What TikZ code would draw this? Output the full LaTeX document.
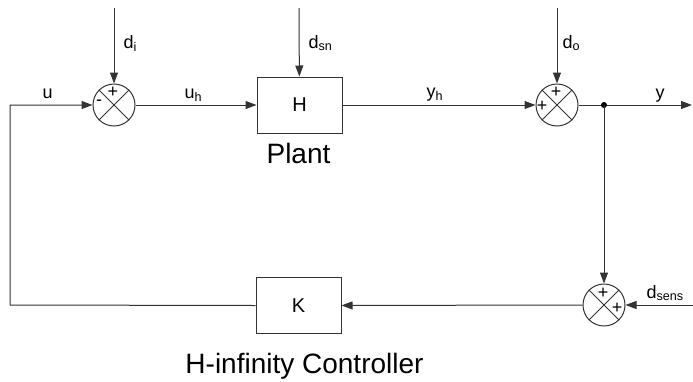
\documentclass[tikz,border=0pt]{standalone}
\usepackage{fontspec}
\setmainfont{Liberation Sans}
\usetikzlibrary{arrows.meta}
\begin{document}
\begin{tikzpicture}[x=1pt,y=-1pt,line width=1pt,draw=black!80,
  sumnode/.style={circle,draw,minimum size=42pt,inner sep=0pt},
  blk/.style={draw,minimum width=85pt,minimum height=56pt,inner sep=0pt,font=\fontsize{20}{24}\selectfont},
  lbl/.style={font=\fontsize{18}{22}\selectfont,inner sep=0pt,anchor=base west},
  sig/.style={font=\fontsize{18}{20}\selectfont,inner sep=0pt},
  big/.style={font=\fontsize{28}{32}\selectfont,inner sep=0pt,anchor=base},
  arr/.style={-{Triangle[length=11pt,width=8pt]}}]
\useasboundingbox (0,0) rectangle (693,381);
\node[sumnode] (s1) at (114,105) {};
\node[blk] (H) at (299.5,105) {H};
\node[sumnode] (s2) at (557,105) {};
\coordinate (j) at (604,105);
\node[sumnode] (s3) at (604,305) {};
\node[blk] (K) at (298.5,305.5) {K};
\coordinate (di) at (114,8);
\coordinate (dsn) at (299,8);
\coordinate (do) at (557,8);
\coordinate (yout) at (692,105);
\coordinate (dsens) at (693,305);
\coordinate (c1) at (10,305);
\coordinate (c2) at (10,105);
\foreach \s in {s1,s2,s3}{
  \draw (\s.north east) -- (\s.south west) (\s.north west) -- (\s.south east);
}
\node[sig] (p1) at (113,92) {+};
\node[sig] (m1) at (99,103) {-};
\node[sig] (p2) at (556,92) {+};
\node[sig] (p3) at (542,106) {+};
\node[sig] (p4) at (603,293) {+};
\node[sig] (p5) at (617,308) {+};
\draw[arr] (di) -- (s1);
\draw[arr] (dsn) -- (H);
\draw[arr] (do) -- (s2);
\draw[arr] (s1) -- (H);
\draw[arr] (H) -- (s2);
\draw[arr] (s2) -- (yout);
\fill[black] (j) circle (3pt);
\draw[arr] (j) -- (s3);
\draw[arr] (dsens) -- (s3);
\draw[arr] (s3) -- (K);
\draw[arr] (K.west) -- (c1) -- (c2) -- (s1);
\node[lbl] (ldi) at (123,48) {d\textsubscript{i}};
\node[lbl] (lu) at (42,98) {u};
\node[lbl] (luh) at (184,98) {u\textsubscript{h}};
\node[lbl] (ldsn) at (308,48) {d\textsubscript{sn}};
\node[lbl] (lyh) at (426,97) {y\textsubscript{h}};
\node[lbl] (ldo) at (562,48) {d\textsubscript{o}};
\node[lbl] (ly) at (655,98) {y};
\node[lbl] (ldsens) at (646,298) {d\textsubscript{sens}};
\node[big] (plant) at (298.5,163) {Plant};
\node[big] (ctrl) at (304.5,373) {H-infinity Controller};
\end{tikzpicture}
\end{document}
